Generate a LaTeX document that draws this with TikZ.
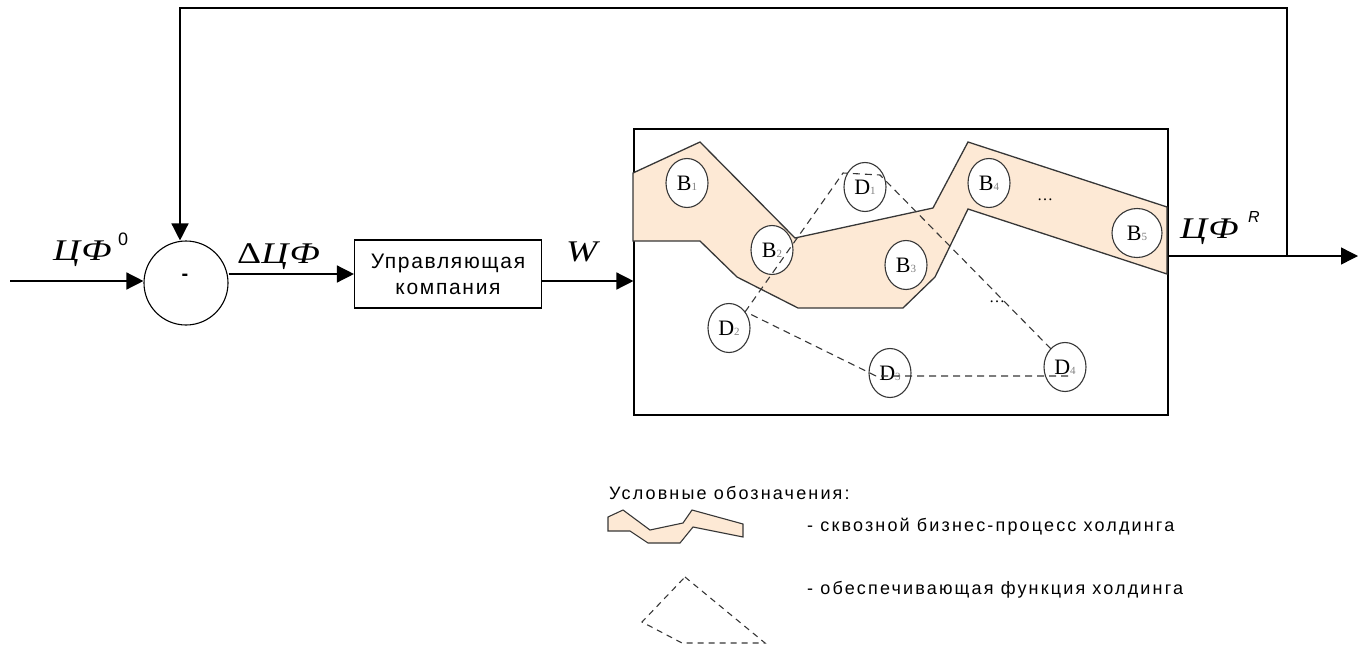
\documentclass[tikz,border=0pt]{standalone}
\usepackage{fontspec}
\setmainfont{Liberation Serif}
\setsansfont{Liberation Sans}
\newfontfamily\boxfont[LetterSpace=8]{Liberation Sans}
\newfontfamily\legfont[LetterSpace=12]{Liberation Sans}
\newfontfamily\mathitfont[FakeStretch=1.25,LetterSpace=4]{Liberation Serif}
\usetikzlibrary{arrows.meta,shapes.geometric}
\definecolor{peach}{RGB}{253,233,213}
\definecolor{edge}{RGB}{55,55,55}
\newcommand{\bl}[2]{{\fontsize{22}{22}\selectfont #1}{\fontsize{11}{11}\selectfont\color{gray}#2}}
\tikzset{
  arr/.style={line width=1.4pt,-{Triangle[length=17pt,width=17pt]}},
  proc/.style={ellipse,draw=edge,fill=white,line width=1.1pt,minimum width=42pt,minimum height=49pt,inner sep=0pt},
  lbl/.style={font=\mathitfont\itshape\fontsize{30}{30}\selectfont,inner sep=0pt},
  supsty/.style={font=\sffamily\fontsize{18}{18}\selectfont,inner sep=0pt},
  legsty/.style={font=\legfont\fontsize{18}{18}\selectfont,anchor=base west,inner sep=0pt},
  dashsty/.style={edge,line width=1.1pt,dash pattern=on 7pt off 5pt}
}
\begin{document}
\begin{tikzpicture}[x=1pt,y=-1pt]
\useasboundingbox (0,0) rectangle (1358,648);
% sum
\node[circle,draw,line width=1.1pt,minimum size=84pt,inner sep=0pt] (sum) at (186,283) {};
\node[font=\sffamily\bfseries\fontsize{20}{20}\selectfont] (minus) at (185,277) {-};
\coordinate (in) at (10,281);
\draw[arr] (in) -- (sum.west |- in);
\node[lbl,anchor=base west] (cf0) at (53,260) {ЦФ};
\node[supsty,anchor=base west] (cf0s) at (118,245) {0};
% box
\node[draw,line width=1.1pt,minimum width=187pt,minimum height=68pt,align=center,font=\boxfont\fontsize{21}{26}\selectfont] (uk) at (448,274) {Управляющая\\компания};
\draw[arr] (sum.east |- uk) -- (uk.west);
\node[lbl,anchor=base west] (dcf) at (237,263) {{\upshape Δ}ЦФ};
% frame
\node[draw,line width=1.1pt,minimum width=534pt,minimum height=286pt,inner sep=0pt] (frame) at (901,272) {};
\draw[arr] (uk.east |- 0,281) -- (frame.west |- 0,281);
\node[lbl,anchor=base west] (w) at (566,261) {W};
% process polygon
\draw[edge,fill=peach,line width=1.3pt,line join=miter]
  (633,173) -- (700,142) -- (795,238) -- (933,208) -- (968,142) -- (1167,207)
  -- (1167,274) -- (968,209) -- (935,277) -- (903,308) -- (798,308) -- (737,277)
  -- (700,241) -- (633,241) -- cycle;
% process nodes
\node[proc] (b1) at (687,183) {\bl{B}{1}};
\node[proc] (b2) at (772,250) {\bl{B}{2}};
\node[proc] (b3) at (906,265) {\bl{B}{3}};
\node[proc] (b4) at (989,183) {\bl{B}{4}};
\node[proc,minimum width=50pt,minimum height=49pt] (b5) at (1137,233) {\bl{B}{5}};
\node[proc] (d1) at (865,187) {\bl{D}{1}};
\node[proc] (d2) at (729,328) {\bl{D}{2}};
\node[proc] (d3) at (890,373) {\bl{D}{3}};
\node[proc] (d4) at (1065,367) {\bl{D}{4}};
% dashed support function
\draw[dashsty] (745,312) -- (843,173) -- (880,175) -- (1052,350);
\draw[dashsty] (1068,376) -- (876,376) -- (748,313);
\node[font=\rmfamily\fontsize{16}{16}\selectfont] (dots1) at (1045,200) {\dots};
\node[font=\rmfamily\fontsize{16}{16}\selectfont] (dots2) at (997,302) {\dots};
% output and feedback
\coordinate (outE) at (1358,256);
\coordinate (tap) at (1287,256);
\coordinate (fbL) at (180,8);
\draw[arr] (frame.east |- outE) -- (outE);
\draw[arr] (tap) |- (fbL) -- (fbL |- sum.north);
\node[lbl,anchor=base west] (cfr) at (1180,238) {ЦФ};
\node[supsty,font=\sffamily\itshape\fontsize{16}{16}\selectfont,anchor=base west] (cfrs) at (1248,222) {R};
% legend
\node[legsty] (legt) at (609,499) {Условные обозначения:};
\draw[edge,fill=peach,line width=1.1pt]
  (608,517) -- (623,510) -- (650,530) -- (683,523) -- (692,510) -- (743,524)
  -- (743,537) -- (693,527) -- (680,543) -- (648,543) -- (630,531) -- (608,531) -- cycle;
\node[legsty] (leg1) at (807,531) {- сквозной бизнес-процесс холдинга};
\draw[edge,line width=1.1pt,dash pattern=on 6pt off 5pt]
  (685,577) -- (765,643) -- (682,643) -- (642,622) -- cycle;
\node[legsty] (leg2) at (807,594) {- обеспечивающая функция холдинга};
\end{tikzpicture}
\end{document}
